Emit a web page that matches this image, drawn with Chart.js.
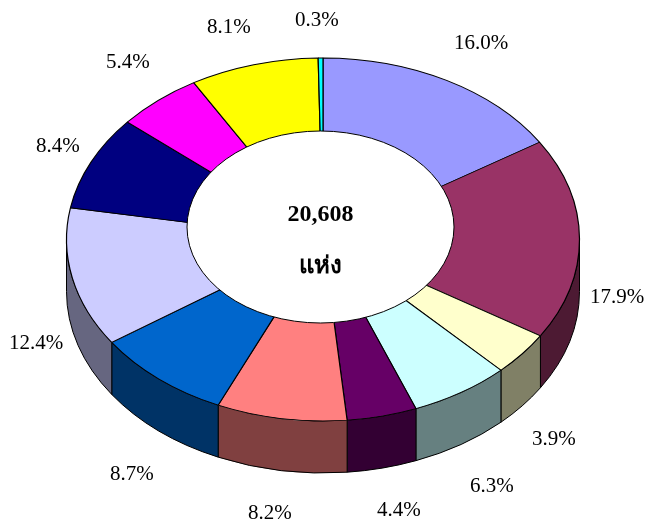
<!DOCTYPE html>
<html>
<head>
<meta charset="utf-8">
<style>
  html, body { margin: 0; padding: 0; background: #fff; }
  #wrap { width: 647px; height: 522px; }
</style>
<script src="https://cdn.jsdelivr.net/npm/chart.js@4"></script>
</head>
<body>
<div id="wrap"><canvas id="donut" width="647" height="522"></canvas></div>
<script>
const sliceValues = [16.0, 17.9, 3.9, 6.3, 4.4, 8.2, 8.7, 12.4, 8.4, 5.4, 8.1, 0.3];
const sliceLabels = ['16.0%', '17.9%', '3.9%', '6.3%', '4.4%', '8.2%', '8.7%', '12.4%', '8.4%', '5.4%', '8.1%', '0.3%'];
const centerLines = ['20,608', 'แห่ง'];

const topColors = ['#9999ff', '#993366', '#ffffcc', '#ccffff', '#660066', '#ff8080', '#0066cc', '#ccccff', '#000080', '#ff00ff', '#ffff00', '#00ffff'];
const wallColors = ['#4d4d80', '#4d1a33', '#808066', '#668080', '#330033', '#804040', '#003366', '#666680', '#000040', '#800080', '#808000', '#008080'];

// where each percent label sits (left edge, baseline)
const labelSpots = [[454, 49], [590, 303], [532, 445], [470, 492], [377, 516], [248, 519], [110, 480], [9, 349], [36, 152], [106, 68], [207, 33], [295, 26]];

// tilted ring on screen
const ring = { x: 323, y: 239.5, rx: 256.5, ry: 181.5, depth: 52 };
const hole = { x: 320.5, y: 227, rx: 133.5, ry: 96 };

const tiltPlugin = {
  id: 'tilt',
  beforeDatasetsDraw(chart) {
    const ctx = chart.ctx;
    const arcs = chart.getDatasetMeta(0).data;

    // outer wall, only the front half shows
    ctx.save();
    ctx.lineWidth = 1;
    ctx.strokeStyle = '#000';
    arcs.forEach((arc, i) => {
      const from = Math.max(arc.startAngle, 0);
      const to = Math.min(arc.endAngle, Math.PI);
      if (to <= from) return;
      ctx.beginPath();
      ctx.ellipse(ring.x, ring.y, ring.rx, ring.ry, 0, from, to);
      ctx.ellipse(ring.x, ring.y + ring.depth, ring.rx, ring.ry, 0, to, from, true);
      ctx.closePath();
      ctx.fillStyle = wallColors[i];
      ctx.fill();
      ctx.stroke();
    });
    ctx.restore();

    // squash the round doughnut down to the ellipse
    const a = arcs[0];
    ctx.save();
    ctx.translate(ring.x, ring.y);
    ctx.scale(ring.rx / a.outerRadius, ring.ry / a.outerRadius);
    ctx.translate(-a.x, -a.y);
  },
  afterDatasetsDraw(chart) {
    const ctx = chart.ctx;
    const arcs = chart.getDatasetMeta(0).data;
    ctx.restore();

    ctx.save();
    ctx.beginPath();
    ctx.ellipse(hole.x, hole.y, hole.rx, hole.ry, 0, 0, Math.PI * 2);
    ctx.fillStyle = '#fff';
    ctx.fill();
    ctx.lineWidth = 1;
    ctx.strokeStyle = '#000';
    ctx.stroke();

    ctx.fillStyle = '#000';
    ctx.textBaseline = 'alphabetic';
    ctx.textAlign = 'left';
    ctx.font = '21px "Liberation Serif"';
    arcs.forEach((arc, i) => {
      ctx.fillText(sliceLabels[i], labelSpots[i][0], labelSpots[i][1]);
    });

    ctx.textAlign = 'center';
    ctx.font = 'bold 24px "Liberation Serif", "Noto Sans"';
    ctx.fillText(centerLines[0], 320.5, 221);
    ctx.fillText(centerLines[1], 320.5, 273);
    ctx.restore();
  }
};

new Chart(document.getElementById('donut'), {
  type: 'doughnut',
  data: {
    labels: sliceLabels,
    datasets: [{
      data: sliceValues,
      backgroundColor: topColors,
      borderColor: '#000',
      borderWidth: 1.2,
      clip: false
    }]
  },
  options: {
    responsive: false,
    animation: false,
    cutout: '45%',
    radius: 256,
    plugins: { legend: { display: false }, tooltip: { enabled: false } }
  },
  plugins: [tiltPlugin]
});
</script>
</body>
</html>
